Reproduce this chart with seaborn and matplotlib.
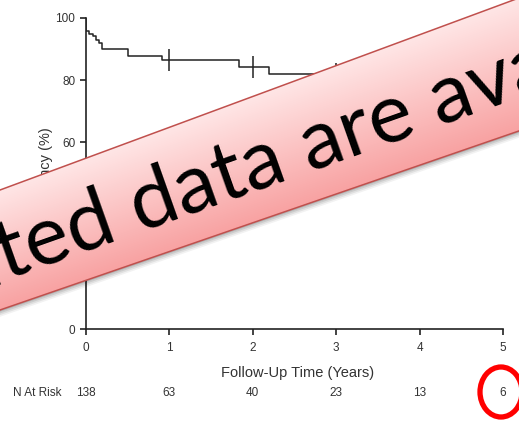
import numpy as np
import pandas as pd
import matplotlib
matplotlib.use("Agg")
import matplotlib.pyplot as plt
import seaborn as sns
from matplotlib.patches import Polygon, Ellipse
from matplotlib.colors import LinearSegmentedColormap

# ---------------- data ----------------
time_years = [0.0, 0.005, 0.03, 0.08, 0.12, 0.16, 0.195, 0.507, 0.907, 1.84, 2.2, 3.6, 5.0]
survival_pct = [100.0, 95.7, 95.0, 94.2, 93.0, 92.0, 90.0, 87.8, 86.5, 84.3, 81.9, 79.0, 79.0]
censor_times = [1.0, 2.0, 3.0]
censor_values = [86.5, 84.3, 81.9]
x_ticks = [0, 1, 2, 3, 4, 5]
y_ticks = [0, 20, 40, 60, 80, 100]
n_at_risk = [138, 63, 40, 23, 13, 6]
banner_before = "Upda"
banner_after = "ted data are available"

# ---------------- style ----------------
sns.set_style("ticks")
plt.rcParams["font.family"] = ["Liberation Sans", "DejaVu Sans"]
txt = "#333333"

W, H = 519, 425
fig = plt.figure(figsize=(W / 100, H / 100), dpi=100)
ax = fig.add_axes([86 / W, 96 / H, 417 / W, 311 / H])

df = pd.DataFrame({"time": time_years, "surv": survival_pct})
sns.lineplot(data=df, x="time", y="surv", drawstyle="steps-post",
             estimator=None, color="#222222", linewidth=1.1, ax=ax)
ax.plot(censor_times, censor_values, linestyle="none", marker="|",
        markersize=16, markeredgewidth=1.1, color="#222222")

ax.set_xlim(0, 5)
ax.set_ylim(0, 100)
ax.set_xticks(x_ticks)
ax.set_yticks(y_ticks)
ax.set_xticklabels([str(v) for v in x_ticks])
ax.set_yticklabels([str(v) for v in y_ticks])
sns.despine(ax=ax)
for s in ["left", "bottom"]:
    ax.spines[s].set_linewidth(1.2)
    ax.spines[s].set_color("#222222")
ax.tick_params(axis="both", length=4.3, width=1.2, color="#222222",
               labelsize=8.5, labelcolor=txt, pad=3.5)
ax.tick_params(axis="x", pad=5)
ax.set_xlabel("Follow-Up Time (Years)", fontsize=10.5, color=txt)
ax.set_ylabel("Patency (%)", fontsize=10.5, color=txt)
ax.xaxis.set_label_coords(0.508, -0.118)
ax.yaxis.set_label_coords(-0.08, 0.52)

# N at risk row
ax.text(-0.875, -0.206, "N At Risk", transform=ax.get_xaxis_transform(),
        ha="left", va="center", fontsize=8.5, color=txt, clip_on=False)
for xv, n in zip(x_ticks, n_at_risk):
    ax.text(xv, -0.206, str(n), transform=ax.get_xaxis_transform(),
            ha="center", va="center", fontsize=8.5, color=txt, clip_on=False)

# ---------------- overlay (banner + circle) ----------------
ov = fig.add_axes([0, 0, 1, 1])
ov.set_xlim(0, W)
ov.set_ylim(H, 0)
ov.axis("off")
ov.patch.set_alpha(0)

def ytop(x):
    return 190 - 0.37 * x

def ybot(x):
    return 310 - 0.345 * x

xl, xr = -40, 570
corners = [(xl, ytop(xl)), (xr, ytop(xr)), (xr, ybot(xr)), (xl, ybot(xl))]

# soft shadow
for k, a in zip([6, 4.5, 3, 1.5], [0.05, 0.07, 0.09, 0.12]):
    sh = Polygon([(cx + k * 0.4, cy + k) for cx, cy in corners], closed=True,
                 facecolor="#000000", edgecolor="none", alpha=a)
    ov.add_patch(sh)

poly = Polygon(corners, closed=True, facecolor="none", edgecolor="#c0504d",
               linewidth=1.1, zorder=3)
ov.add_patch(poly)
xs = np.arange(W) + 0.5
ys = np.arange(H) + 0.5
X, Y = np.meshgrid(xs, ys)
T = np.clip((Y - ytop(X)) / (ybot(X) - ytop(X)), 0, 1)
cmap = LinearSegmentedColormap.from_list("banner", ["#ffe6e6", "#f8a2a2"])
im = ov.imshow(T, cmap=cmap, extent=(0, W, H, 0), origin="upper",
               interpolation="bilinear", zorder=2, aspect="auto")
clip_poly = Polygon(corners, closed=True, transform=ov.transData)
im.set_clip_path(clip_poly)

ang = np.degrees(np.arctan(0.355))
ax0, ay0 = 6, 280
ov.text(ax0, ay0, banner_before, rotation=ang, rotation_mode="anchor",
        ha="right", va="baseline", fontsize=60, family=["Lato", "DejaVu Sans"],
        color="black", zorder=4)
ov.text(ax0, ay0, banner_after, rotation=ang, rotation_mode="anchor",
        ha="left", va="baseline", fontsize=60, family=["Lato", "DejaVu Sans"],
        color="black", zorder=4)

ov.add_patch(Ellipse((501, 392), 42, 50, facecolor="none",
                     edgecolor="#ff0000", linewidth=3.8, zorder=5))

fig.savefig("out.png", dpi=100)
